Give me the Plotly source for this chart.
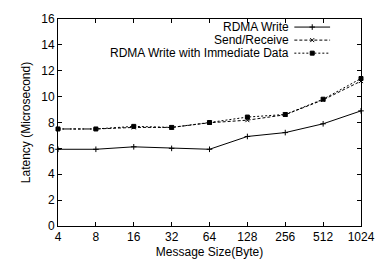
import plotly.graph_objects as go

sizes = ["4", "8", "16", "32", "64", "128", "256", "512", "1024"]
rdma_write = [5.93, 5.93, 6.12, 6.0, 5.93, 6.92, 7.22, 7.9, 8.9]
send_recv = [7.5, 7.5, 7.62, 7.62, 7.98, 8.18, 8.6, 9.75, 11.2]
rdma_imm = [7.5, 7.5, 7.7, 7.62, 8.0, 8.42, 8.62, 9.8, 11.4]
series_names = ["RDMA Write", "Send/Receive", "RDMA Write with Immediate Data"]
yticks = [0, 2, 4, 6, 8, 10, 12, 14, 16]

FONT = "Liberation Sans, Arial, sans-serif"
styles = [
    dict(dash="solid", symbol="cross-thin", size=4),
    dict(dash="3px,2px", symbol="x-thin", size=4),
    dict(dash="2px,2px", symbol="square", size=4),
]

xpos = list(range(len(sizes)))
fig = go.Figure()
for name, vals, st in zip(series_names, [rdma_write, send_recv, rdma_imm], styles):
    fig.add_trace(go.Scatter(
        x=xpos, y=vals, mode="lines+markers", name=name, showlegend=False,
        line=dict(color="black", width=1, dash=st["dash"]),
        marker=dict(symbol=st["symbol"], size=st["size"], color="black",
                    line=dict(color="black", width=1)),
        cliponaxis=False,
    ))

# gnuplot-style legend keys (text right-aligned, sample on the right)
leg_y = [0.961, 0.898, 0.835]
for name, st, yy in zip(series_names, styles, leg_y):
    fig.add_trace(go.Scatter(
        x=[0.78, 0.898], y=[yy, yy], xaxis="x2", yaxis="y2", mode="lines",
        showlegend=False, hoverinfo="skip",
        line=dict(color="black", width=1, dash=st["dash"]),
    ))
    fig.add_trace(go.Scatter(
        x=[0.839], y=[yy], xaxis="x2", yaxis="y2", mode="markers",
        showlegend=False, hoverinfo="skip",
        marker=dict(symbol=st["symbol"], size=st["size"], color="black",
                    line=dict(color="black", width=1)),
    ))
    fig.add_annotation(x=0.766, y=yy, xref="paper", yref="paper", text=name,
                       showarrow=False, xanchor="right", yanchor="middle",
                       borderpad=0, height=12,
                       font=dict(family=FONT, size=12, color="black"))

axis_common = dict(showline=True, linecolor="black", linewidth=1, mirror="ticks",
                   ticks="inside", ticklen=4, tickcolor="black", tickwidth=1,
                   showgrid=False, zeroline=False,
                   tickfont=dict(family=FONT, size=12, color="black"))

fig.update_layout(
    width=387, height=269,
    margin=dict(l=58, r=16, t=13, b=41),
    paper_bgcolor="white", plot_bgcolor="white",
    showlegend=False,
    xaxis=dict(range=[0, len(sizes) - 1], tickvals=xpos, ticktext=sizes,
               title=dict(text="Message Size(Byte)", standoff=4,
                          font=dict(family=FONT, size=12, color="black")),
               **axis_common),
    yaxis=dict(range=[0, 16], tickvals=yticks,
               title=dict(text="Latency (Microsecond)", standoff=8,
                          font=dict(family=FONT, size=12, color="black")),
               **axis_common),
    xaxis2=dict(overlaying="x", range=[0, 1], visible=False),
    yaxis2=dict(overlaying="y", range=[0, 1], visible=False),
)

fig.write_html("out.html", config={"displayModeBar": False},
               post_script="document.body.style.margin='0';")
